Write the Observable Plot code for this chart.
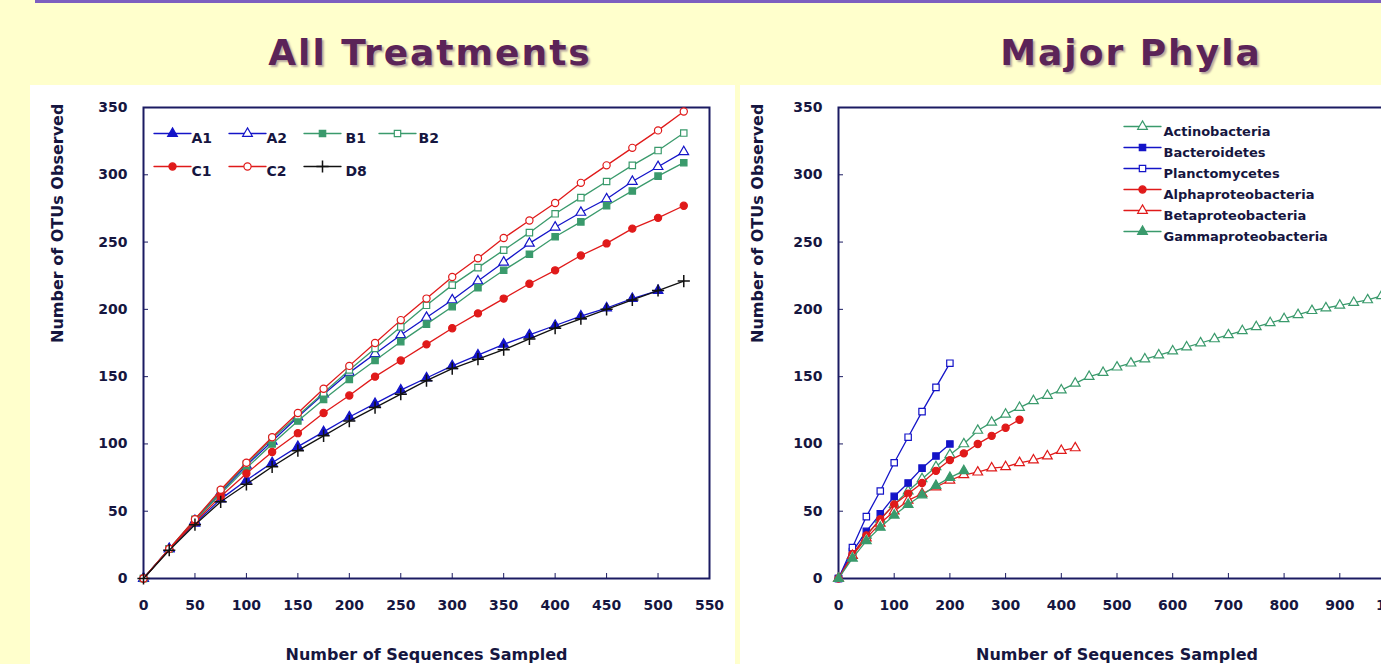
<!DOCTYPE html>
<html><head><meta charset="utf-8">
<script src="https://cdn.jsdelivr.net/npm/d3@7"></script>
<script src="https://cdn.jsdelivr.net/npm/@observablehq/plot@0.6"></script>
<style>
html,body{margin:0;padding:0;width:1381px;height:664px;overflow:hidden;background:#FFFFCC;font-family:"DejaVu Sans",sans-serif;}
#topline{position:absolute;left:35px;top:0;width:1346px;height:3px;background:#7d5fc0;}
.title{position:absolute;top:35px;font-size:36px;line-height:36px;font-weight:bold;letter-spacing:2px;color:#5b2458;text-shadow:2px 2px 2px #b9a9a0;white-space:nowrap;transform:translateX(-50%);}
.panel{position:absolute;background:#ffffff;}
#leftPanel{left:30px;top:85px;width:705px;height:579px;}
#rightPanel{left:740px;top:85px;width:641px;height:579px;}
#leftChart{position:absolute;left:30px;top:85px;width:700px;height:579px;}
#rightChart{position:absolute;left:740px;top:85px;width:680px;height:579px;}
#leftChart svg,#rightChart svg{max-width:none !important;}
</style>
</head><body>
<div id="topline"></div>
<div class="title" style="left:430px">All Treatments</div>
<div class="title" style="left:1131px">Major Phyla</div>
<div class="panel" id="leftPanel"></div>
<div class="panel" id="rightPanel"></div>
<div id="leftChart"></div>
<div id="rightChart"></div>
<script>
// ---------- Data: All Treatments ----------
const seqsTreat = [0,25,50,75,100,125,150,175,200,225,250,275,300,325,350,375,400,425,450,475,500,525];
const otuA1 = [0,22,41,59,73,86,98,109,120,130,140,149,158,166,174,181,188,195,201,208,214];
const otuA2 = [0,22,43,64,84,102,120,137,153,167,181,194,207,221,235,249,261,272,282,295,306,317];
const otuB1 = [0,22,43,63,82,100,117,133,148,162,176,189,202,216,229,241,254,265,277,288,299,309];
const otuB2 = [0,22,44,65,85,104,121,138,155,171,187,203,218,231,244,257,271,283,295,307,318,331];
const otuC1 = [0,22,42,61,78,94,108,123,136,150,162,174,186,197,208,219,229,240,249,260,268,277];
const otuC2 = [0,22,44,66,86,105,123,141,158,175,192,208,224,238,253,266,279,294,307,320,333,347];
const otuD8 = [0,21,40,57,70,83,95,106,117,127,137,147,156,163,170,178,186,193,200,207,214,221];
const treatNames = ["A1","A2","B1","B2","C1","C2","D8"];
const treatTicksX = [0,50,100,150,200,250,300,350,400,450,500,550];
const otuTicksY = [0,50,100,150,200,250,300,350];

// ---------- Data: Major Phyla ----------
const phylaNames = ["Actinobacteria","Bacteroidetes","Planctomycetes","Alphaproteobacteria","Betaproteobacteria","Gammaproteobacteria"];
const seqsActino = [0,25,50,75,100,125,150,175,200,225,250,275,300,325,350,375,400,425,450,475,500,525,550,575,600,625,650,675,700,725,750,775,800,825,850,875,900,925,950,975];
const otuActino = [0,17,32,44,55,65,74,83,92,100,110,116,122,127,132,136,140,145,150,153,157,160,163,166,169,172,175,178,181,184,187,190,193,196,199,201,203,205,207,210];
const seqsBactero = [0,25,50,75,100,125,150,175,200];
const otuBactero = [0,20,35,48,61,71,82,91,100];
const seqsPlancto = [0,25,50,75,100,125,150,175,200];
const otuPlancto = [0,23,46,65,86,105,124,142,160];
const seqsAlpha = [0,25,50,75,100,125,150,175,200,225,250,275,300,325];
const otuAlpha = [0,18,32,44,55,63,71,80,88,93,100,106,112,118];
const seqsBeta = [0,25,50,75,100,125,150,175,200,225,250,275,300,325,350,375,400,425];
const otuBeta = [0,17,30,41,50,58,63,68,73,77,79,82,83,86,88,91,95,97];
const seqsGamma = [0,25,50,75,100,125,150,175,200,225];
const otuGamma = [0,15,28,38,47,55,62,69,75,80];
const phylaTicksX = [0,100,200,300,400,500,600,700,800,900,1000];

// ---------- Styles ----------
const BLUE = "#1414c8", GREEN = "#3a9a6c", RED = "#e01a1a", BLACK = "#111111";
const NAVY = "#1b1b62";

const treatStyle = {
  A1: {color: BLUE, symbol: "triangle", open: false},
  A2: {color: BLUE, symbol: "triangle", open: true},
  B1: {color: GREEN, symbol: "square", open: false},
  B2: {color: GREEN, symbol: "square", open: true},
  C1: {color: RED, symbol: "circle", open: false},
  C2: {color: RED, symbol: "circle", open: true},
  D8: {color: BLACK, symbol: "plus", open: false}
};
const phylaStyle = {
  Actinobacteria: {color: GREEN, symbol: "triangle", open: true},
  Bacteroidetes: {color: BLUE, symbol: "square", open: false},
  Planctomycetes: {color: BLUE, symbol: "square", open: true},
  Alphaproteobacteria: {color: RED, symbol: "circle", open: false},
  Betaproteobacteria: {color: RED, symbol: "triangle", open: true},
  Gammaproteobacteria: {color: GREEN, symbol: "triangle", open: false}
};

const treatSeries = [
  {name: "A1", xs: seqsTreat, ys: otuA1},
  {name: "A2", xs: seqsTreat, ys: otuA2},
  {name: "B1", xs: seqsTreat, ys: otuB1},
  {name: "B2", xs: seqsTreat, ys: otuB2},
  {name: "C1", xs: seqsTreat, ys: otuC1},
  {name: "C2", xs: seqsTreat, ys: otuC2},
  {name: "D8", xs: seqsTreat, ys: otuD8}
];
const phylaSeries = [
  {name: "Actinobacteria", xs: seqsActino, ys: otuActino},
  {name: "Bacteroidetes", xs: seqsBactero, ys: otuBactero},
  {name: "Planctomycetes", xs: seqsPlancto, ys: otuPlancto},
  {name: "Alphaproteobacteria", xs: seqsAlpha, ys: otuAlpha},
  {name: "Betaproteobacteria", xs: seqsBeta, ys: otuBeta},
  {name: "Gammaproteobacteria", xs: seqsGamma, ys: otuGamma}
];

const segShape = {draw(ctx, l) { ctx.moveTo(0, 0); ctx.lineTo(0, -l); }};

function dotOpts(st) {
  if (st.symbol === "plus") return {symbol: "plus", r: 4, stroke: st.color, strokeWidth: 1.5, fill: "none"};
  return {symbol: st.symbol, r: 3.6, stroke: st.color, strokeWidth: 1.2, fill: st.open ? "white" : st.color};
}

function seriesMarks(series, styles) {
  const marks = [];
  for (const s of series) {
    const rows = s.ys.map((v, i) => ({x: s.xs[i], y: v}));
    const st = styles[s.name];
    marks.push(Plot.line(rows, {x: "x", y: "y", stroke: st.color, strokeWidth: 1.3}));
    marks.push(Plot.dot(rows, {x: "x", y: "y", ...dotOpts(st)}));
  }
  return marks;
}

function legendMarks(items, styles, positions, fontSize) {
  const marks = [];
  items.forEach((name, i) => {
    const p = positions[i];
    const st = styles[name];
    marks.push(Plot.vector([0], {frameAnchor: "top-left", dx: p.lx, dy: p.y, length: p.len, rotate: 90, anchor: "middle", shape: segShape, stroke: st.color, strokeWidth: 1.3}));
    marks.push(Plot.dot([0], {frameAnchor: "top-left", dx: p.lx, dy: p.y, ...dotOpts(st)}));
    marks.push(Plot.text([name], {frameAnchor: "top-left", dx: p.tx, dy: p.y, text: d => d, textAnchor: "start", fill: "#16163f", fontSize, fontWeight: "bold", letterSpacing: p.ls || 0}));
  });
  return marks;
}

const fmt = d => String(d);

// ---------- Left chart ----------
const leftLegendPos = [
  {lx: 29, tx: 48, y: 26, len: 37},
  {lx: 104, tx: 123, y: 26, len: 37},
  {lx: 179, tx: 202, y: 26, len: 37},
  {lx: 254, tx: 275, y: 26, len: 37},
  {lx: 29, tx: 48, y: 59, len: 37},
  {lx: 104, tx: 123, y: 59, len: 37},
  {lx: 179, tx: 202, y: 59, len: 37}
];

const leftPlot = Plot.plot({
  width: 700, height: 579,
  marginLeft: 113, marginRight: 21, marginTop: 22, marginBottom: 86,
  x: {domain: [0, 550]},
  y: {domain: [0, 350]},
  style: {background: "transparent", color: NAVY, fontFamily: "DejaVu Sans", fontSize: "14px", fontWeight: "bold", overflow: "visible", maxWidth: "none"},
  marks: [
    Plot.frame({stroke: NAVY, strokeWidth: 2}),
    Plot.axisX({ticks: treatTicksX, tickSize: -5, tickPadding: 27, tickFormat: fmt, label: null, fill: "#16163f", fontSize: 14, fontWeight: "bold"}),
    Plot.axisY({ticks: otuTicksY, tickSize: -5, tickPadding: 21, tickFormat: fmt, label: null, fill: "#16163f", fontSize: 14, fontWeight: "bold"}),
    Plot.text(["Number of Sequences Sampled"], {frameAnchor: "bottom", dy: 81, text: d => d, fontSize: 16, fontWeight: "bold", fill: "#16163f"}),
    Plot.text(["Number of OTUs Observed"], {frameAnchor: "left", dx: -86, rotate: -90, text: d => d, fontSize: 16, fontWeight: "bold", fill: "#16163f"}),
    ...seriesMarks(treatSeries, treatStyle),
    ...legendMarks(treatNames, treatStyle, leftLegendPos, 14)
  ]
});
document.getElementById("leftChart").appendChild(leftPlot);

// ---------- Right chart ----------
const rightLegendPos = [0,1,2,3,4,5].map(i => ({lx: 304, tx: 325, y: 19 + i * 21, len: 37, ls: 0.8}));

const rightPlot = Plot.plot({
  width: 680, height: 579,
  marginLeft: 98, marginRight: 25, marginTop: 22, marginBottom: 86,
  x: {domain: [0, 1000]},
  y: {domain: [0, 350]},
  style: {background: "transparent", color: NAVY, fontFamily: "DejaVu Sans", fontSize: "14px", fontWeight: "bold", overflow: "visible", maxWidth: "none"},
  marks: [
    Plot.frame({stroke: NAVY, strokeWidth: 2}),
    Plot.axisX({ticks: phylaTicksX, tickSize: -5, tickPadding: 27, tickFormat: fmt, label: null, fill: "#16163f", fontSize: 14, fontWeight: "bold"}),
    Plot.axisY({ticks: otuTicksY, tickSize: -5, tickPadding: 21, tickFormat: fmt, label: null, fill: "#16163f", fontSize: 14, fontWeight: "bold"}),
    Plot.text(["Number of Sequences Sampled"], {frameAnchor: "bottom", dy: 81, text: d => d, fontSize: 16, fontWeight: "bold", fill: "#16163f"}),
    Plot.text(["Number of OTUs Observed"], {frameAnchor: "left", dx: -81, rotate: -90, text: d => d, fontSize: 16, fontWeight: "bold", fill: "#16163f"}),
    ...seriesMarks(phylaSeries, phylaStyle),
    ...legendMarks(phylaNames, phylaStyle, rightLegendPos, 13)
  ]
});
document.getElementById("rightChart").appendChild(rightPlot);
</script>
</body></html>
